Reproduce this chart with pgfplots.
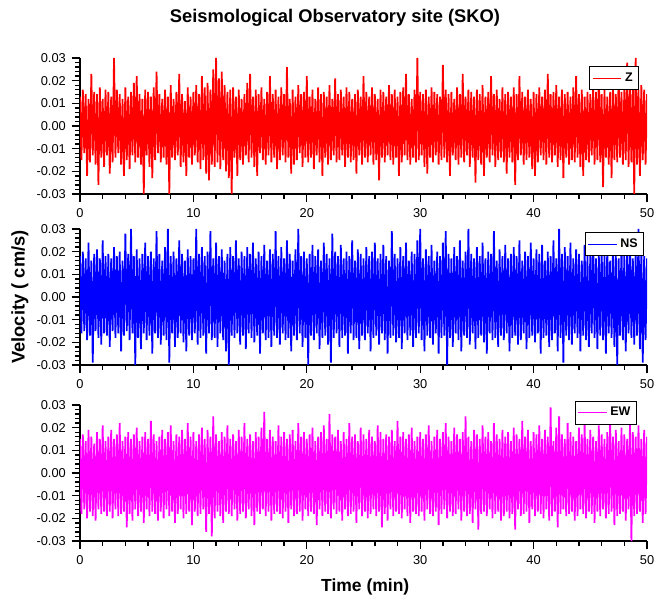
\documentclass[border=0pt]{standalone}
\usepackage{fontspec}
\setmainfont{Liberation Sans}
\usepackage{pgfplots}
\usepackage{pgfplotstable}
\pgfplotsset{compat=1.18}

% velocity samples (cm/s), one every 0.125 min
\pgfplotstableread[row sep=\\, header=false]{
0.013\\ -0.015\\ 0.016\\ -0.012\\ 0.014\\ -0.022\\ 0.012\\ -0.016\\ 0.023\\ -0.013\\ 0.015\\ -0.017\\ 0.014\\ -0.026\\ 0.017\\ -0.014\\ 0.012\\ -0.018\\ 0.016\\ -0.013\\
0.015\\ -0.021\\ 0.013\\ -0.016\\ 0.030\\ -0.014\\ 0.016\\ -0.012\\ 0.014\\ -0.017\\ 0.012\\ -0.022\\ 0.017\\ -0.015\\ 0.013\\ -0.019\\ 0.015\\ -0.013\\ 0.019\\ -0.016\\
0.022\\ -0.014\\ 0.014\\ -0.017\\ 0.012\\ -0.030\\ 0.016\\ -0.013\\ 0.015\\ -0.018\\ 0.013\\ -0.023\\ 0.017\\ -0.015\\ 0.024\\ -0.012\\ 0.014\\ -0.016\\ 0.012\\ -0.014\\
0.016\\ -0.017\\ 0.013\\ -0.030\\ 0.018\\ -0.014\\ 0.012\\ -0.015\\ 0.015\\ -0.013\\ 0.023\\ -0.018\\ 0.014\\ -0.016\\ 0.011\\ -0.022\\ 0.017\\ -0.014\\ 0.013\\ -0.017\\
0.015\\ -0.013\\ 0.018\\ -0.016\\ 0.014\\ -0.019\\ 0.022\\ -0.015\\ 0.017\\ -0.021\\ 0.019\\ -0.024\\ 0.016\\ -0.017\\ 0.025\\ -0.018\\ 0.030\\ -0.016\\ 0.021\\ -0.019\\
0.024\\ -0.015\\ 0.018\\ -0.020\\ 0.015\\ -0.023\\ 0.016\\ -0.030\\ 0.017\\ -0.014\\ 0.013\\ -0.022\\ 0.016\\ -0.015\\ 0.012\\ -0.017\\ 0.014\\ -0.013\\ 0.019\\ -0.016\\
0.023\\ -0.014\\ 0.013\\ -0.018\\ 0.016\\ -0.022\\ 0.014\\ -0.012\\ 0.017\\ -0.015\\ 0.012\\ -0.017\\ 0.015\\ -0.013\\ 0.022\\ -0.016\\ 0.014\\ -0.014\\ 0.016\\ -0.019\\
0.013\\ -0.015\\ 0.017\\ -0.013\\ 0.014\\ -0.016\\ 0.026\\ -0.014\\ 0.012\\ -0.021\\ 0.016\\ -0.017\\ 0.013\\ -0.015\\ 0.018\\ -0.012\\ 0.014\\ -0.018\\ 0.015\\ -0.014\\
0.022\\ -0.016\\ 0.013\\ -0.014\\ 0.016\\ -0.019\\ 0.012\\ -0.013\\ 0.017\\ -0.016\\ 0.014\\ -0.022\\ 0.015\\ -0.014\\ 0.013\\ -0.017\\ 0.018\\ -0.015\\ 0.012\\ -0.013\\
0.021\\ -0.016\\ 0.014\\ -0.015\\ 0.016\\ -0.013\\ 0.013\\ -0.018\\ 0.017\\ -0.014\\ 0.015\\ -0.016\\ 0.012\\ -0.015\\ 0.014\\ -0.021\\ 0.016\\ -0.013\\ 0.013\\ -0.017\\
0.022\\ -0.014\\ 0.015\\ -0.016\\ 0.013\\ -0.013\\ 0.017\\ -0.017\\ 0.014\\ -0.015\\ 0.012\\ -0.024\\ 0.016\\ -0.014\\ 0.015\\ -0.016\\ 0.013\\ -0.013\\ 0.018\\ -0.015\\
0.014\\ -0.017\\ 0.016\\ -0.014\\ 0.013\\ -0.022\\ 0.015\\ -0.016\\ 0.017\\ -0.013\\ 0.023\\ -0.015\\ 0.014\\ -0.017\\ 0.012\\ -0.014\\ 0.016\\ -0.016\\ 0.030\\ -0.015\\
0.015\\ -0.013\\ 0.014\\ -0.018\\ 0.016\\ -0.021\\ 0.013\\ -0.014\\ 0.017\\ -0.016\\ 0.015\\ -0.013\\ 0.014\\ -0.017\\ 0.013\\ -0.015\\ 0.027\\ -0.014\\ 0.016\\ -0.016\\
0.014\\ -0.022\\ 0.015\\ -0.013\\ 0.012\\ -0.015\\ 0.017\\ -0.017\\ 0.014\\ -0.014\\ 0.023\\ -0.016\\ 0.013\\ -0.013\\ 0.016\\ -0.018\\ 0.015\\ -0.014\\ 0.013\\ -0.025\\
0.016\\ -0.015\\ 0.014\\ -0.017\\ 0.018\\ -0.022\\ 0.013\\ -0.014\\ 0.015\\ -0.016\\ 0.022\\ -0.013\\ 0.014\\ -0.018\\ 0.016\\ -0.015\\ 0.012\\ -0.014\\ 0.017\\ -0.016\\
0.014\\ -0.021\\ 0.015\\ -0.014\\ 0.013\\ -0.016\\ 0.017\\ -0.026\\ 0.014\\ -0.015\\ 0.022\\ -0.013\\ 0.015\\ -0.017\\ 0.013\\ -0.015\\ 0.016\\ -0.014\\ 0.012\\ -0.019\\
0.015\\ -0.022\\ 0.014\\ -0.016\\ 0.017\\ -0.013\\ 0.013\\ -0.015\\ 0.016\\ -0.017\\ 0.023\\ -0.014\\ 0.014\\ -0.016\\ 0.015\\ -0.013\\ 0.018\\ -0.018\\ 0.013\\ -0.015\\
0.016\\ -0.023\\ 0.014\\ -0.014\\ 0.015\\ -0.017\\ 0.013\\ -0.015\\ 0.017\\ -0.016\\ 0.022\\ -0.014\\ 0.014\\ -0.018\\ 0.016\\ -0.022\\ 0.013\\ -0.015\\ 0.015\\ -0.016\\
0.014\\ -0.013\\ 0.017\\ -0.017\\ 0.015\\ -0.015\\ 0.024\\ -0.016\\ 0.014\\ -0.027\\ 0.016\\ -0.014\\ 0.013\\ -0.017\\ 0.015\\ -0.023\\ 0.018\\ -0.015\\ 0.014\\ -0.016\\
0.023\\ -0.014\\ 0.015\\ -0.017\\ 0.016\\ -0.015\\ 0.028\\ -0.018\\ 0.017\\ -0.016\\ 0.019\\ -0.030\\ 0.030\\ -0.017\\ 0.016\\ -0.022\\ 0.018\\ -0.015\\ 0.016\\ -0.017\\
0.014\\
}\zdata

\pgfplotstableread[row sep=\\, header=false]{
0.018\\ -0.016\\ 0.020\\ -0.015\\ 0.017\\ -0.019\\ 0.024\\ -0.017\\ 0.016\\ -0.029\\ 0.019\\ -0.015\\ 0.021\\ -0.018\\ 0.017\\ -0.021\\ 0.025\\ -0.016\\ 0.018\\ -0.017\\
0.019\\ -0.022\\ 0.017\\ -0.015\\ 0.022\\ -0.018\\ 0.018\\ -0.016\\ 0.020\\ -0.024\\ 0.016\\ -0.017\\ 0.028\\ -0.015\\ 0.019\\ -0.019\\ 0.030\\ -0.016\\ 0.018\\ -0.030\\
0.021\\ -0.018\\ 0.017\\ -0.023\\ 0.019\\ -0.016\\ 0.024\\ -0.019\\ 0.018\\ -0.017\\ 0.020\\ -0.025\\ 0.017\\ -0.016\\ 0.029\\ -0.018\\ 0.019\\ -0.021\\ 0.016\\ -0.017\\
0.022\\ -0.019\\ 0.030\\ -0.029\\ 0.018\\ -0.016\\ 0.020\\ -0.022\\ 0.017\\ -0.018\\ 0.025\\ -0.016\\ 0.019\\ -0.020\\ 0.016\\ -0.024\\ 0.021\\ -0.017\\ 0.018\\ -0.019\\
0.017\\ -0.016\\ 0.030\\ -0.021\\ 0.019\\ -0.018\\ 0.022\\ -0.017\\ 0.018\\ -0.025\\ 0.020\\ -0.016\\ 0.029\\ -0.019\\ 0.017\\ -0.018\\ 0.024\\ -0.022\\ 0.018\\ -0.016\\
0.021\\ -0.019\\ 0.016\\ -0.024\\ 0.019\\ -0.030\\ 0.022\\ -0.017\\ 0.018\\ -0.018\\ 0.025\\ -0.016\\ 0.017\\ -0.021\\ 0.020\\ -0.017\\ 0.018\\ -0.023\\ 0.022\\ -0.016\\
0.019\\ -0.018\\ 0.024\\ -0.020\\ 0.017\\ -0.017\\ 0.020\\ -0.025\\ 0.018\\ -0.016\\ 0.023\\ -0.019\\ 0.016\\ -0.018\\ 0.021\\ -0.022\\ 0.019\\ -0.017\\ 0.029\\ -0.018\\
0.018\\ -0.021\\ 0.022\\ -0.016\\ 0.017\\ -0.019\\ 0.025\\ -0.018\\ 0.019\\ -0.024\\ 0.016\\ -0.017\\ 0.021\\ -0.019\\ 0.030\\ -0.016\\ 0.018\\ -0.022\\ 0.020\\ -0.018\\
0.017\\ -0.030\\ 0.019\\ -0.017\\ 0.023\\ -0.019\\ 0.018\\ -0.016\\ 0.021\\ -0.023\\ 0.016\\ -0.018\\ 0.024\\ -0.017\\ 0.019\\ -0.021\\ 0.017\\ -0.029\\ 0.028\\ -0.018\\
0.020\\ -0.016\\ 0.018\\ -0.022\\ 0.023\\ -0.018\\ 0.017\\ -0.017\\ 0.020\\ -0.025\\ 0.018\\ -0.016\\ 0.025\\ -0.019\\ 0.016\\ -0.018\\ 0.021\\ -0.023\\ 0.019\\ -0.017\\
0.017\\ -0.019\\ 0.022\\ -0.016\\ 0.018\\ -0.024\\ 0.020\\ -0.018\\ 0.024\\ -0.017\\ 0.017\\ -0.021\\ 0.019\\ -0.016\\ 0.023\\ -0.019\\ 0.018\\ -0.025\\ 0.016\\ -0.018\\
0.029\\ -0.017\\ 0.019\\ -0.020\\ 0.017\\ -0.018\\ 0.022\\ -0.023\\ 0.018\\ -0.016\\ 0.024\\ -0.019\\ 0.016\\ -0.017\\ 0.020\\ -0.022\\ 0.019\\ -0.018\\ 0.025\\ -0.016\\
0.030\\ -0.019\\ 0.017\\ -0.024\\ 0.021\\ -0.017\\ 0.018\\ -0.018\\ 0.023\\ -0.021\\ 0.016\\ -0.016\\ 0.020\\ -0.025\\ 0.018\\ -0.018\\ 0.024\\ -0.017\\ 0.029\\ -0.030\\
0.019\\ -0.018\\ 0.017\\ -0.022\\ 0.022\\ -0.016\\ 0.018\\ -0.019\\ 0.025\\ -0.024\\ 0.016\\ -0.017\\ 0.020\\ -0.018\\ 0.030\\ -0.021\\ 0.019\\ -0.016\\ 0.017\\ -0.023\\
0.022\\ -0.018\\ 0.018\\ -0.017\\ 0.024\\ -0.020\\ 0.017\\ -0.025\\ 0.020\\ -0.016\\ 0.019\\ -0.019\\ 0.029\\ -0.018\\ 0.016\\ -0.022\\ 0.021\\ -0.017\\ 0.018\\ -0.019\\
0.023\\ -0.016\\ 0.017\\ -0.024\\ 0.019\\ -0.018\\ 0.022\\ -0.017\\ 0.018\\ -0.021\\ 0.025\\ -0.019\\ 0.016\\ -0.016\\ 0.020\\ -0.023\\ 0.018\\ -0.018\\ 0.024\\ -0.017\\
0.017\\ -0.020\\ 0.021\\ -0.016\\ 0.019\\ -0.025\\ 0.023\\ -0.018\\ 0.016\\ -0.017\\ 0.020\\ -0.022\\ 0.018\\ -0.019\\ 0.025\\ -0.016\\ 0.017\\ -0.024\\ 0.030\\ -0.018\\
0.019\\ -0.029\\ 0.022\\ -0.017\\ 0.018\\ -0.019\\ 0.024\\ -0.021\\ 0.017\\ -0.016\\ 0.021\\ -0.018\\ 0.019\\ -0.024\\ 0.016\\ -0.017\\ 0.023\\ -0.019\\ 0.018\\ -0.022\\
0.020\\ -0.016\\ 0.025\\ -0.018\\ 0.017\\ -0.023\\ 0.019\\ -0.017\\ 0.022\\ -0.019\\ 0.018\\ -0.025\\ 0.024\\ -0.016\\ 0.016\\ -0.018\\ 0.021\\ -0.022\\ 0.019\\ -0.030\\
0.017\\ -0.017\\ 0.023\\ -0.019\\ 0.018\\ -0.024\\ 0.020\\ -0.016\\ 0.025\\ -0.018\\ 0.017\\ -0.021\\ 0.019\\ -0.017\\ 0.030\\ -0.023\\ 0.021\\ -0.029\\ 0.018\\ -0.019\\
0.017\\
}\nsdata

\pgfplotstableread[row sep=\\, header=false]{
0.015\\ -0.018\\ 0.017\\ -0.016\\ 0.014\\ -0.020\\ 0.019\\ -0.017\\ 0.016\\ -0.019\\ 0.013\\ -0.021\\ 0.018\\ -0.016\\ 0.015\\ -0.018\\ 0.021\\ -0.017\\ 0.014\\ -0.019\\
0.016\\ -0.017\\ 0.019\\ -0.020\\ 0.015\\ -0.016\\ 0.017\\ -0.019\\ 0.022\\ -0.018\\ 0.014\\ -0.017\\ 0.016\\ -0.024\\ 0.018\\ -0.018\\ 0.015\\ -0.021\\ 0.017\\ -0.016\\
0.020\\ -0.019\\ 0.014\\ -0.017\\ 0.016\\ -0.022\\ 0.018\\ -0.016\\ 0.015\\ -0.019\\ 0.023\\ -0.017\\ 0.017\\ -0.018\\ 0.014\\ -0.021\\ 0.016\\ -0.017\\ 0.019\\ -0.020\\
0.015\\ -0.016\\ 0.018\\ -0.019\\ 0.021\\ -0.017\\ 0.014\\ -0.022\\ 0.017\\ -0.018\\ 0.016\\ -0.016\\ 0.019\\ -0.020\\ 0.015\\ -0.018\\ 0.022\\ -0.017\\ 0.016\\ -0.023\\
0.018\\ -0.017\\ 0.014\\ -0.019\\ 0.017\\ -0.018\\ 0.020\\ -0.016\\ 0.015\\ -0.026\\ 0.019\\ -0.018\\ 0.016\\ -0.028\\ 0.025\\ -0.020\\ 0.017\\ -0.017\\ 0.014\\ -0.019\\
0.018\\ -0.022\\ 0.016\\ -0.017\\ 0.021\\ -0.018\\ 0.015\\ -0.019\\ 0.017\\ -0.016\\ 0.014\\ -0.021\\ 0.019\\ -0.018\\ 0.016\\ -0.017\\ 0.022\\ -0.020\\ 0.015\\ -0.016\\
0.017\\ -0.019\\ 0.014\\ -0.023\\ 0.018\\ -0.017\\ 0.016\\ -0.018\\ 0.020\\ -0.016\\ 0.027\\ -0.019\\ 0.015\\ -0.017\\ 0.019\\ -0.021\\ 0.016\\ -0.018\\ 0.014\\ -0.017\\
0.021\\ -0.018\\ 0.016\\ -0.020\\ 0.018\\ -0.017\\ 0.015\\ -0.022\\ 0.017\\ -0.016\\ 0.019\\ -0.019\\ 0.014\\ -0.018\\ 0.022\\ -0.017\\ 0.016\\ -0.021\\ 0.018\\ -0.016\\
0.015\\ -0.019\\ 0.017\\ -0.017\\ 0.020\\ -0.018\\ 0.014\\ -0.023\\ 0.016\\ -0.016\\ 0.018\\ -0.019\\ 0.021\\ -0.017\\ 0.015\\ -0.018\\ 0.026\\ -0.020\\ 0.017\\ -0.016\\
0.016\\ -0.018\\ 0.019\\ -0.017\\ 0.014\\ -0.021\\ 0.018\\ -0.016\\ 0.015\\ -0.019\\ 0.022\\ -0.018\\ 0.016\\ -0.017\\ 0.017\\ -0.022\\ 0.014\\ -0.016\\ 0.020\\ -0.019\\
0.017\\ -0.017\\ 0.015\\ -0.020\\ 0.019\\ -0.018\\ 0.016\\ -0.016\\ 0.014\\ -0.019\\ 0.021\\ -0.017\\ 0.018\\ -0.024\\ 0.015\\ -0.018\\ 0.017\\ -0.021\\ 0.016\\ -0.016\\
0.019\\ -0.019\\ 0.014\\ -0.017\\ 0.023\\ -0.018\\ 0.016\\ -0.020\\ 0.018\\ -0.016\\ 0.015\\ -0.019\\ 0.017\\ -0.022\\ 0.020\\ -0.017\\ 0.014\\ -0.018\\ 0.016\\ -0.019\\
0.018\\ -0.017\\ 0.015\\ -0.021\\ 0.017\\ -0.016\\ 0.021\\ -0.018\\ 0.014\\ -0.019\\ 0.016\\ -0.017\\ 0.019\\ -0.023\\ 0.015\\ -0.018\\ 0.018\\ -0.016\\ 0.022\\ -0.020\\
0.016\\ -0.017\\ 0.014\\ -0.019\\ 0.020\\ -0.018\\ 0.017\\ -0.016\\ 0.015\\ -0.021\\ 0.018\\ -0.017\\ 0.025\\ -0.019\\ 0.016\\ -0.018\\ 0.014\\ -0.022\\ 0.019\\ -0.016\\
0.017\\ -0.025\\ 0.015\\ -0.018\\ 0.021\\ -0.017\\ 0.016\\ -0.019\\ 0.018\\ -0.016\\ 0.014\\ -0.020\\ 0.022\\ -0.018\\ 0.017\\ -0.017\\ 0.015\\ -0.021\\ 0.019\\ -0.019\\
0.016\\ -0.017\\ 0.018\\ -0.020\\ 0.014\\ -0.018\\ 0.020\\ -0.025\\ 0.017\\ -0.016\\ 0.015\\ -0.019\\ 0.023\\ -0.018\\ 0.016\\ -0.017\\ 0.019\\ -0.022\\ 0.014\\ -0.016\\
0.018\\ -0.019\\ 0.017\\ -0.017\\ 0.021\\ -0.018\\ 0.015\\ -0.020\\ 0.019\\ -0.016\\ 0.016\\ -0.021\\ 0.029\\ -0.019\\ 0.014\\ -0.017\\ 0.020\\ -0.024\\ 0.025\\ -0.018\\
0.017\\ -0.016\\ 0.015\\ -0.019\\ 0.022\\ -0.018\\ 0.018\\ -0.017\\ 0.016\\ -0.021\\ 0.014\\ -0.019\\ 0.020\\ -0.016\\ 0.017\\ -0.018\\ 0.023\\ -0.020\\ 0.015\\ -0.017\\
0.019\\ -0.018\\ 0.016\\ -0.022\\ 0.014\\ -0.017\\ 0.021\\ -0.019\\ 0.017\\ -0.016\\ 0.015\\ -0.020\\ 0.018\\ -0.018\\ 0.024\\ -0.017\\ 0.016\\ -0.023\\ 0.019\\ -0.019\\
0.014\\ -0.018\\ 0.020\\ -0.017\\ 0.017\\ -0.021\\ 0.015\\ -0.016\\ 0.022\\ -0.030\\ 0.018\\ -0.019\\ 0.016\\ -0.018\\ 0.021\\ -0.017\\ 0.015\\ -0.022\\ 0.019\\ -0.018\\
0.016\\
}\ewdata

\pgfplotsset{
  seis/.style={
    scale only axis,
    width=340.2pt, height=81.6pt,
    xmin=0, xmax=50, ymin=-0.03, ymax=0.03,
    xtick={0,10,20,30,40,50},
    ytick={-0.03,-0.02,-0.01,0,0.01,0.02,0.03},
    scaled y ticks=false,
    minor x tick num=4, minor y tick num=4,
    axis x line*=bottom, axis y line*=left,
    axis line style={line width=0.9pt},
    every tick/.style={black, line width=0.8pt},
    major tick length=5pt, minor tick length=3pt,
    tick align=outside,
    ticklabel style={font=\fontsize{7.7}{9}\selectfont},
    /pgf/number format/assume math mode=true,
    yticklabel style={/pgf/number format/fixed, /pgf/number format/fixed zerofill,
      /pgf/number format/precision=2},
    legend style={draw=black, line width=0.6pt, fill=white, anchor=north east,
      font=\bfseries\fontsize{7.5}{9}\selectfont, inner sep=1.5pt},
    legend image post style={line width=0.5pt},
  },
  sig/.style={line width=1.05pt, line join=bevel},
}

\begin{document}
\begin{tikzpicture}
\useasboundingbox (0,0) rectangle (392.4pt,360.6pt);
\node[font=\bfseries\fontsize{11}{13}\selectfont] at (201pt,349.8pt) {Seismological Observatory site (SKO)};

\begin{axis}[seis, at={(48pt,244.2pt)}, anchor=south west,
  legend style={at={(axis description cs:0.986,0.94)}}]
\addplot[sig, color={rgb,255:red,255;green,0;blue,0}] table[x expr=\coordindex*0.125, y index=0] {\zdata};
\addlegendentry{Z}
\end{axis}

\begin{axis}[seis, at={(48pt,141.6pt)}, anchor=south west,
  ylabel={Velocity ( cm/s)},
  ylabel style={at={(axis description cs:-0.106,0.5)}, anchor=center, font=\bfseries\fontsize{11}{13}\selectfont},
  legend style={at={(axis description cs:0.995,0.978)}}]
\addplot[sig, color={rgb,255:red,0;green,0;blue,255}] table[x expr=\coordindex*0.125, y index=0] {\nsdata};
\addlegendentry{NS}
\end{axis}

\begin{axis}[seis, at={(48pt,36pt)}, anchor=south west,
  xlabel={Time (min)},
  xlabel style={at={(axis description cs:0.503,-0.34)}, anchor=center, font=\bfseries\fontsize{10.5}{12}\selectfont},
  legend style={at={(axis description cs:0.982,1.03)}}]
\addplot[sig, color={rgb,255:red,255;green,0;blue,255}] table[x expr=\coordindex*0.125, y index=0] {\ewdata};
\addlegendentry{EW}
\end{axis}
\end{tikzpicture}
\end{document}
